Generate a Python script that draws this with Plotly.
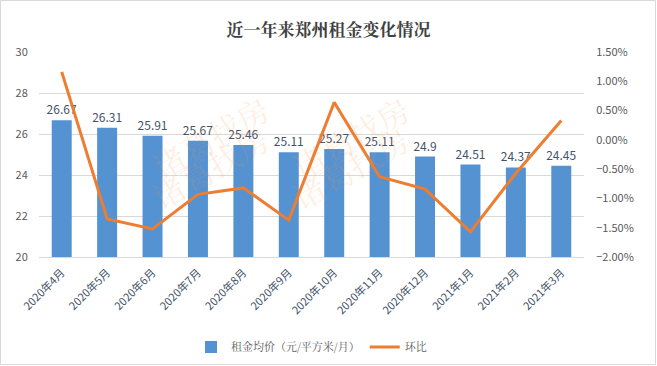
import plotly.graph_objects as go

categories = ["2020年4月", "2020年5月", "2020年6月", "2020年7月", "2020年8月", "2020年9月",
              "2020年10月", "2020年11月", "2020年12月", "2021年1月", "2021年2月", "2021年3月"]
avg_rent = [26.67, 26.31, 25.91, 25.67, 25.46, 25.11, 25.27, 25.11, 24.9, 24.51, 24.37, 24.45]
mom_change = [0.0116, -0.0135, -0.0152, -0.0093, -0.0082, -0.0137, 0.0064, -0.0063, -0.0084, -0.0157, -0.0057, 0.0033]

W, H = 657, 366
ML, MR, MT, MB = 39, 73, 52, 109
PW, PH = W - ML - MR, H - MT - MB

def px_to_paper(px, py):
    return (px - ML) / PW, (H - MB - py) / PH

fig = go.Figure()
fig.add_trace(go.Bar(
    x=categories, y=avg_rent, name="租金均价（元/平方米/月）",
    marker=dict(color="#5592d1", line=dict(width=0)),
    width=0.44,
    text=[f"{v:g}" for v in avg_rent], textposition="outside", constraintext="none",
    textfont=dict(size=12, color="#44546a"), cliponaxis=False,
))
fig.add_trace(go.Scatter(
    x=categories, y=mom_change, name="环比", yaxis="y2", mode="lines",
    line=dict(color="#ED7D31", width=3),
))

# faint watermarks (only those fully inside the picture)
wm_px = [(140, 82), (420, 82), (140, 222), (420, 222)]
annotations = []
for (px, py) in wm_px:
    x, y = px_to_paper(px, py)
    annotations.append(dict(text="诸葛找房", x=x, y=y, xref="paper", yref="paper", showarrow=False,
                            textangle=-30, font=dict(size=32, color="rgba(247,150,70,0.16)",
                                                     family="Noto Serif CJK SC, Noto Sans CJK SC")))

fig.update_layout(
    width=W, height=H,
    margin=dict(l=ML, r=MR, t=MT, b=MB, autoexpand=False),
    paper_bgcolor="white", plot_bgcolor="white",
    font=dict(family="Noto Sans CJK SC, Liberation Sans, sans-serif", color="#595959"),
    title=dict(text="<b>近一年来郑州租金变化情况</b>", x=0.5, xanchor="center", y=1 - 30 / H, yanchor="middle",
               font=dict(size=17, color="#404040", family="Noto Serif CJK SC, Noto Sans CJK SC")),
    xaxis=dict(tickangle=-45, tickfont=dict(size=11, color="#44546a"), showline=True,
               linecolor="#d9d9d9", linewidth=1, showgrid=False, ticks="", automargin=False,
               ticklabelstandoff=4),
    yaxis=dict(range=[20, 30], dtick=2, showgrid=True, gridcolor="#d9d9d9", gridwidth=1,
               zeroline=False, tickfont=dict(size=11, color="#595959"), ticks="outside",
               ticklen=8, tickcolor="rgba(0,0,0,0)", automargin=False),
    yaxis2=dict(range=[-0.02, 0.015], dtick=0.005, tickformat=".2%", overlaying="y", side="right",
                showgrid=False, zeroline=False, tickfont=dict(size=11, color="#595959"),
                ticks="outside", ticklen=9, tickcolor="rgba(0,0,0,0)", automargin=False),
    legend=dict(orientation="h", x=0.5, xanchor="center", y=-(347 - 257) / PH, yanchor="middle",
                font=dict(size=11, color="#595959", family="Noto Serif CJK SC, Noto Sans CJK SC")),
    annotations=annotations,
    shapes=[dict(type="rect", xref="paper", yref="paper",
                 x0=-(ML - 0.5) / PW, x1=1 + (MR - 1.5) / PW,
                 y0=-(MB - 1.5) / PH, y1=1 + (MT - 0.5) / PH,
                 line=dict(color="#d9d9d9", width=1), layer="below")],
)

fig.write_html("out.html", config={"displayModeBar": False},
               post_script="document.body.style.margin='0';document.body.style.overflow='hidden';")
